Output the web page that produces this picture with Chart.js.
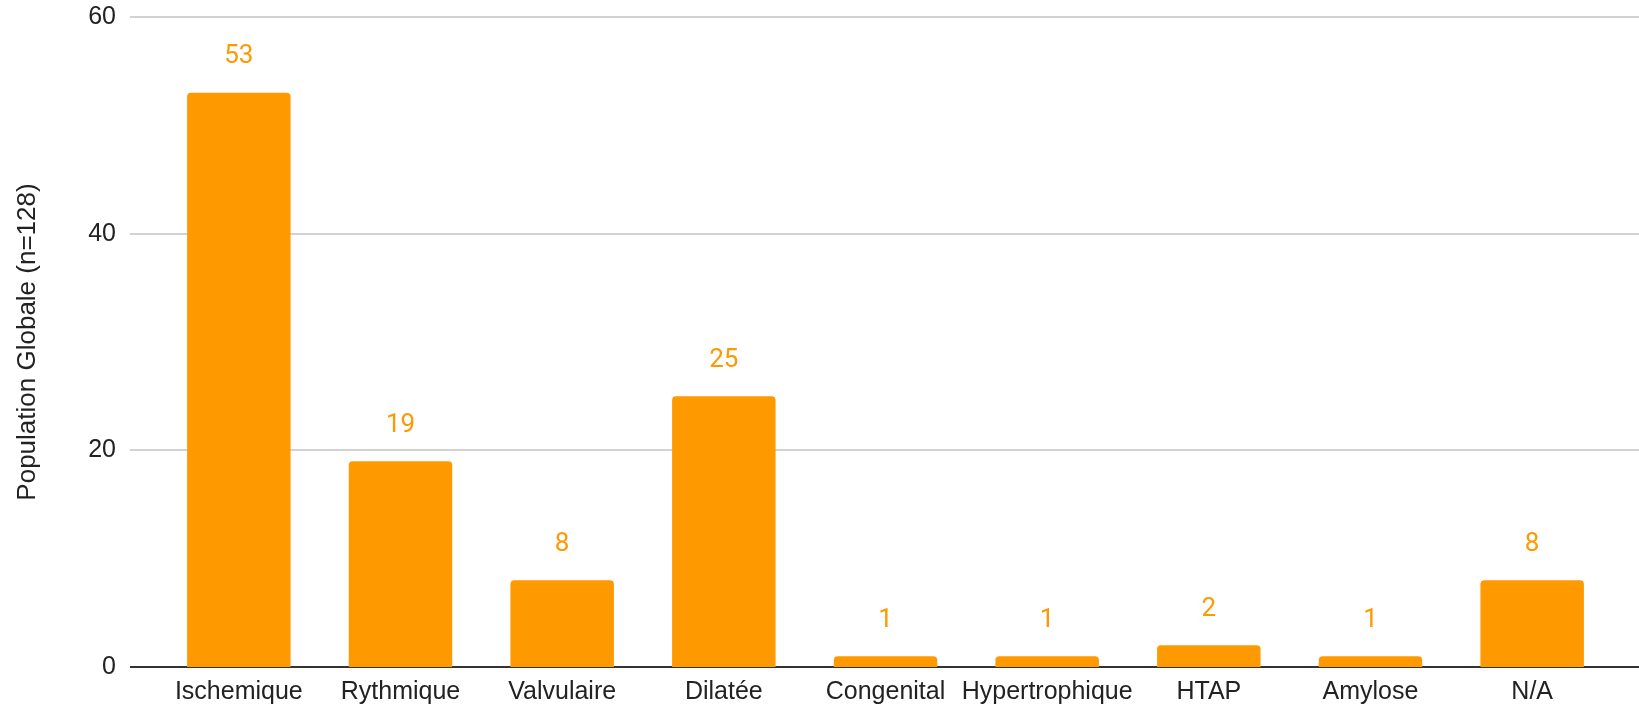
<!DOCTYPE html>
<html>
<head>
<meta charset="utf-8">
<script src="https://cdn.jsdelivr.net/npm/chart.js@4"></script>
<style>
  html, body { margin: 0; padding: 0; background: #fff; overflow: hidden; }
  canvas { display: block; }
</style>
</head>
<body>
<canvas id="mycanvas" width="1639" height="706"></canvas>
<script>
// data
var categories = ['Ischemique', 'Rythmique', 'Valvulaire', 'Dilatée', 'Congenital', 'Hypertrophique', 'HTAP', 'Amylose', 'N/A'];
var counts = [53, 19, 8, 25, 1, 1, 2, 1, 8];
var yTicks = [0, 20, 40, 60];
var yTitle = 'Population Globale (n=128)';

var orange = '#ff9900';

// horizontal grid lines run past the plot area on both sides
var gridPlugin = {
    id: 'wideGrid',
    beforeDatasetsDraw: function(chart){
        var ctx = chart.ctx, y = chart.scales.y, area = chart.chartArea;
        ctx.save();
        y.ticks.forEach(function(t){
            var py = Math.round(y.getPixelForValue(t.value));
            ctx.beginPath();
            ctx.lineWidth = 2;
            ctx.strokeStyle = t.value === 0 ? '#333333' : '#d2d2d2';
            ctx.moveTo(area.left - 28, py);
            ctx.lineTo(chart.width, py);
            ctx.stroke();
        });
        ctx.restore();
    }
};

// value labels above each bar
var labelPlugin = {
    id: 'barValues',
    afterDatasetsDraw: function(chart){
        var ctx = chart.ctx;
        var meta = chart.getDatasetMeta(0);
        ctx.save();
        ctx.fillStyle = orange;
        ctx.font = '26px Roboto';
        ctx.textAlign = 'center';
        ctx.textBaseline = 'middle';
        meta.data.forEach(function(bar, i){
            ctx.fillText(String(counts[i]), bar.x, bar.y - 36);
        });
        ctx.restore();
    }
};

var chardata = {
    labels: categories,
    datasets: [{
        label: yTitle,
        data: counts,
        backgroundColor: orange,
        borderWidth: 0,
        borderRadius: { topLeft: 4, topRight: 4 },
        barPercentage: 0.64,
        categoryPercentage: 1.0
    }]
};

var ctx = document.getElementById('mycanvas');
var barGraph = new Chart(ctx, {
    type: 'bar',
    data: chardata,
    plugins: [gridPlugin, labelPlugin],
    options: {
        responsive: false,
        devicePixelRatio: 1,
        animation: false,
        layout: { padding: { top: 17, right: 26, left: 0, bottom: 0 } },
        plugins: {
            legend: { display: false },
            tooltip: { enabled: false }
        },
        scales: {
            x: {
                grid: { display: false, drawTicks: false },
                border: { display: false },
                ticks: {
                    color: '#222',
                    font: { family: 'Liberation Sans', size: 25 },
                    padding: 10,
                    maxRotation: 0,
                    autoSkip: false
                },
                afterFit: function(s){ s.height = 39; }
            },
            y: {
                min: 0,
                max: 60,
                grid: { display: false, drawTicks: false },
                border: { display: false },
                afterBuildTicks: function(s){
                    s.ticks = yTicks.map(function(v){ return { value: v }; });
                },
                ticks: {
                    color: '#222',
                    font: { family: 'Liberation Sans', size: 25 },
                    padding: 42
                },
                title: {
                    display: true,
                    text: yTitle,
                    color: '#222',
                    font: { family: 'Liberation Sans', size: 26 },
                    padding: { top: 12, bottom: 0 }
                },
                afterFit: function(s){
                    s.width = 158;
                    s.paddingTop = 0;
                    s.paddingBottom = 0;
                }
            }
        }
    }
});
</script>
</body>
</html>
